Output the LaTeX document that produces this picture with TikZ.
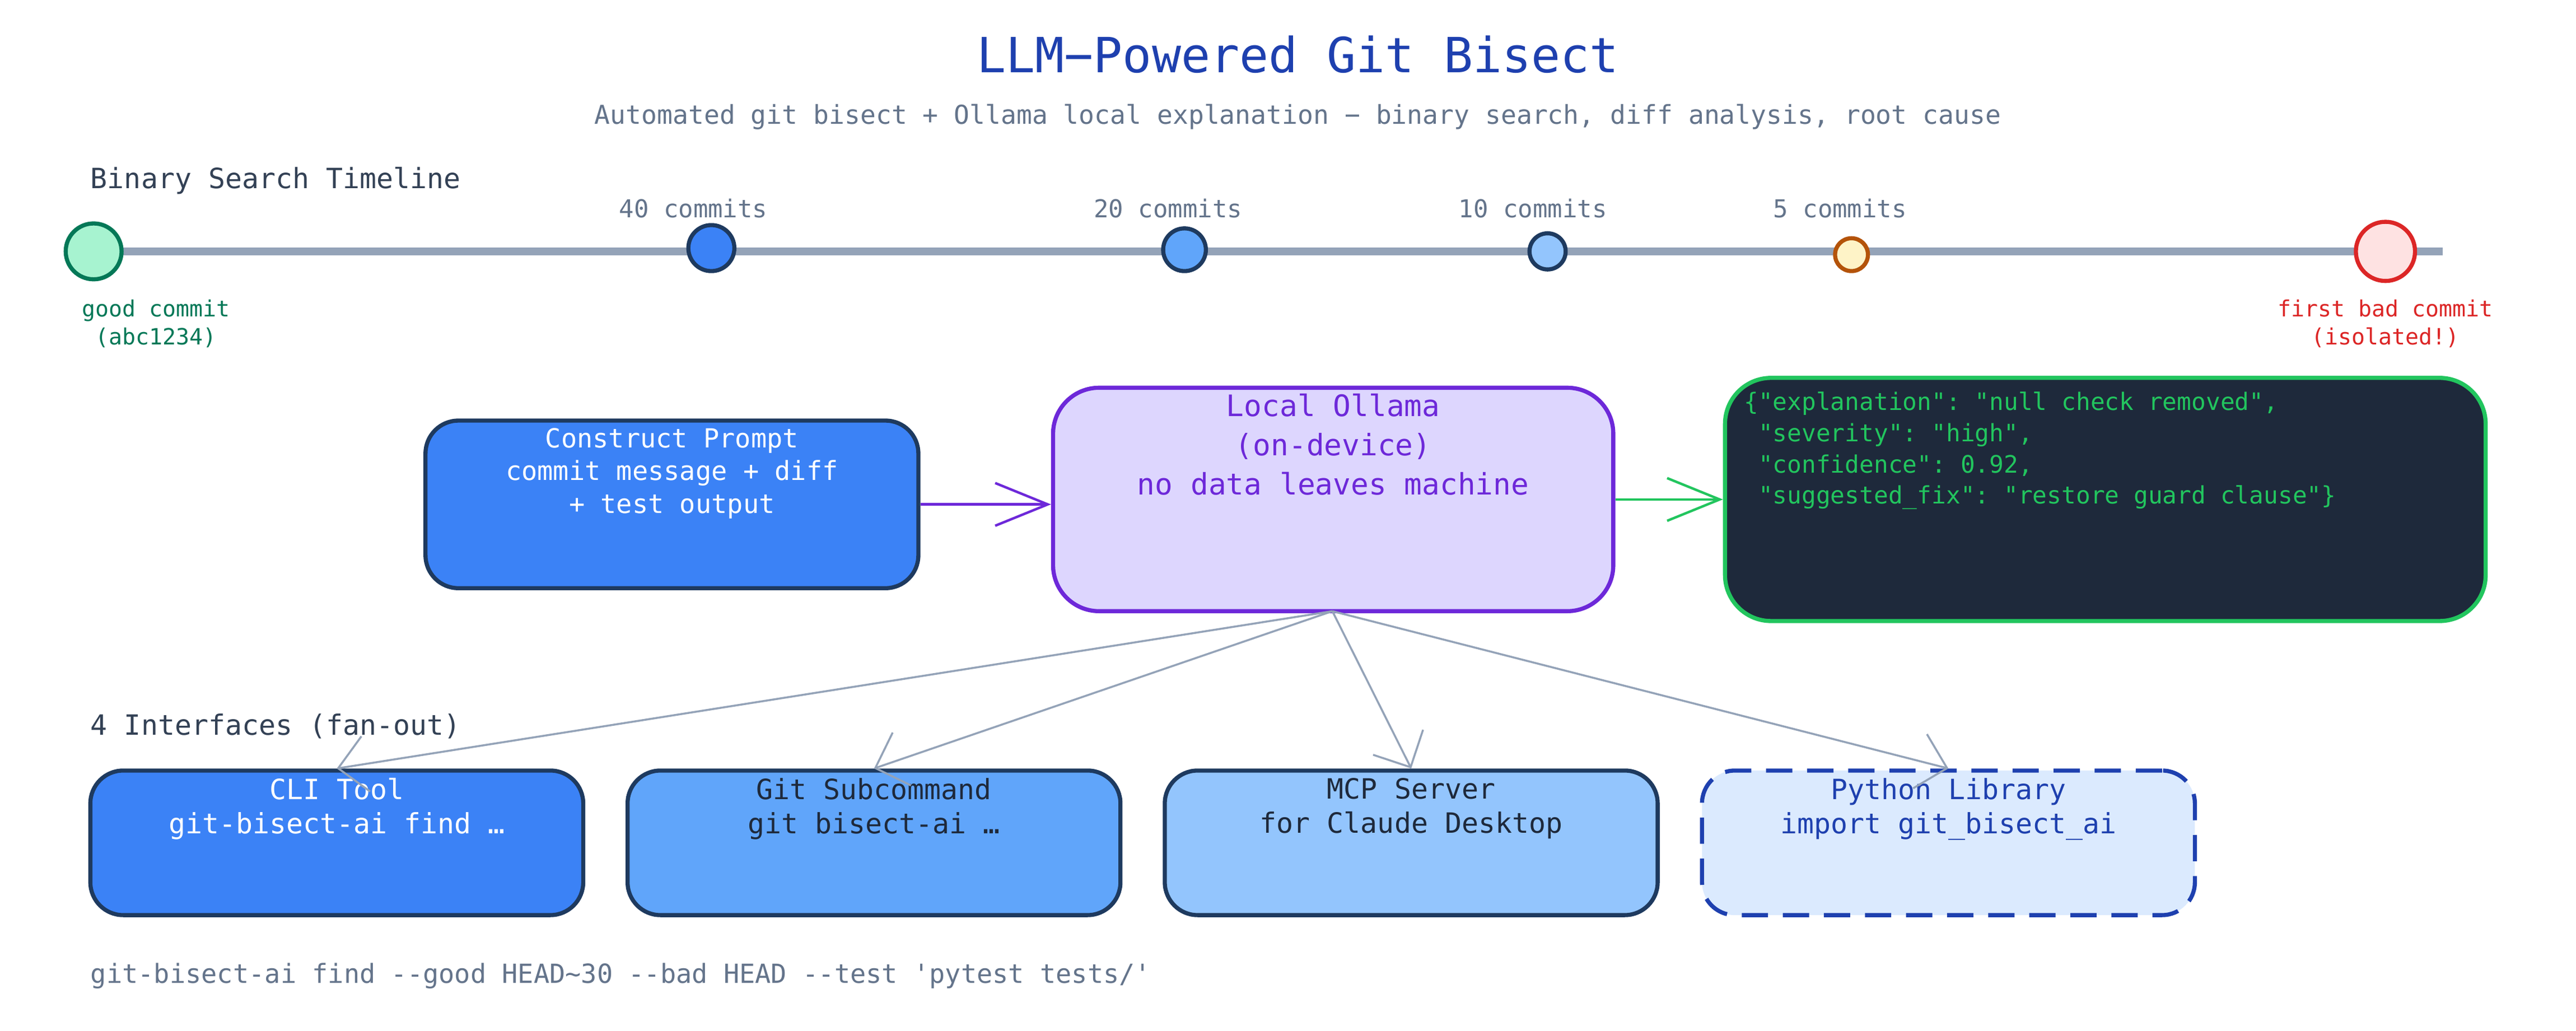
\documentclass[tikz,border=0pt]{standalone}
\usepackage{fontspec}
\setmonofont{DejaVu Sans Mono}
\usetikzlibrary{arrows.meta}
\definecolor{ttl}{HTML}{1E40AF}
\definecolor{slate}{HTML}{64748B}
\definecolor{dark}{HTML}{334155}
\definecolor{navy}{HTML}{1E3A5F}
\definecolor{line}{HTML}{94A3B8}
\definecolor{b1}{HTML}{3B82F6}
\definecolor{b2}{HTML}{60A5FA}
\definecolor{b3}{HTML}{93C5FD}
\definecolor{b4}{HTML}{DBEAFE}
\definecolor{gd}{HTML}{047857}
\definecolor{gf}{HTML}{A7F3D0}
\definecolor{rd}{HTML}{DC2626}
\definecolor{rf}{HTML}{FEE2E2}
\definecolor{pu}{HTML}{6D28D9}
\definecolor{pf}{HTML}{DDD6FE}
\definecolor{jb}{HTML}{1E293B}
\definecolor{jg}{HTML}{22C55E}
\definecolor{am}{HTML}{B45309}
\definecolor{af}{HTML}{FEF3C7}
\newcommand{\fs}[2]{\fontsize{#1}{#2}\selectfont\ttfamily}
\begin{document}
\begin{tikzpicture}[x=1pt,y=-1pt,
  dot/.style={circle,line width=2.5pt,inner sep=0pt},
  box/.style={draw=navy,line width=2.5pt,rounded corners=20pt,inner sep=0pt},
  tl/.style={text=slate,font=\fs{15}{18}},
  fan/.style={draw=line,line width=1.2pt,-{Straight Barb[length=17pt,width=34pt,line width=1.2pt]}}]
\useasboundingbox[fill=white] (0,0) rectangle (1568,627.2);
\node[text=ttl,font=\fs{29.5}{34}] (title) at (790,33) {LLM−Powered Git Bisect};
\node[text=slate,font=\fs{15.8}{20}] (sub) at (790,71) {Automated git bisect + Ollama local explanation − binary search, diff analysis, root cause};
\node[text=dark,font=\fs{17}{20},anchor=west,inner sep=0pt] (bst) at (55,110) {Binary Search Timeline};
\coordinate (ls) at (57,153); \coordinate (le) at (1487,153);
\draw[line,line width=5pt] (ls) -- (le);
\node[dot,draw=gd,fill=gf,minimum size=34pt] (good) at (57,153) {};
\node[dot,draw=navy,fill=b1,minimum size=28pt] (c40) at (433,151) {};
\node[dot,draw=navy,fill=b2,minimum size=26pt] (c20) at (721,152) {};
\node[dot,draw=navy,fill=b3,minimum size=22pt] (c10) at (942,153) {};
\node[dot,draw=am,fill=af,minimum size=20pt] (c5) at (1127,155) {};
\node[dot,draw=rd,fill=rf,minimum size=36pt] (bad) at (1452,153) {};
\node[tl] (t40) at (422,127) {40 commits};
\node[tl] (t20) at (711,127) {20 commits};
\node[tl] (t10) at (933,127) {10 commits};
\node[tl] (t5) at (1120,127) {5 commits};
\node[text=gd,font=\fs{13.6}{17},align=center,anchor=north] (gl) at (95,179) {good commit\\(abc1234)};
\node[text=rd,font=\fs{13.6}{17},align=center,anchor=north] (bl) at (1452,179) {first bad commit\\(isolated!)};
% middle row
\node[box,fill=b1,minimum width=300pt,minimum height=102pt] (cp) at (409,307) {};
\node[text=white,font=\fs{16}{20},align=center,anchor=north] (cpt) at (409,257) {Construct Prompt\\commit message + diff\\+ test output};
\node[box,draw=pu,fill=pf,minimum width=341pt,minimum height=136pt,rounded corners=28pt] (ol) at (811.5,304) {};
\node[text=pu,font=\fs{18}{24},align=center,anchor=north] (olt) at (811.5,236) {Local Ollama\\(on-device)\\no data leaves machine};
\node[box,draw=jg,fill=jb,minimum width=463pt,minimum height=148pt,rounded corners=28pt] (js) at (1281.5,304) {};
\node[text=jg,font=\fs{14.6}{19},align=left,anchor=north west] (jst) at (1058,235) {\{"explanation": "null check removed",\\\ "severity": "high",\\\ "confidence": 0.92,\\\ "suggested\_fix": "restore guard clause"\}};
\draw[pu,line width=1.5pt,-{Straight Barb[length=32pt,width=26pt,line width=1.5pt]}] (cp.east |- 0,307) -- (ol.west |- 0,307);
\draw[jg,line width=1.5pt,-{Straight Barb[length=32pt,width=26pt,line width=1.5pt]}] (ol.east |- 0,304) -- (js.west |- 0,304);
% interfaces
\node[text=dark,font=\fs{17}{20},anchor=west,inner sep=0pt] (ifl) at (55,442) {4 Interfaces (fan-out)};
\node[box,fill=b1,minimum width=300pt,minimum height=88pt] (cli) at (205,513) {};
\node[box,fill=b2,minimum width=300pt,minimum height=88pt] (gs) at (532,513) {};
\node[box,fill=b3,minimum width=300pt,minimum height=88pt] (mcp) at (859,513) {};
\node[box,draw=ttl,fill=b4,dashed,dash pattern=on 16pt off 9pt,minimum width=300pt,minimum height=88pt] (py) at (1186,513) {};
\node[text=white,font=\fs{17}{21},align=center,anchor=north] at (205,470) {CLI Tool\\git-bisect-ai find …};
\node[text=jb,font=\fs{17}{21},align=center,anchor=north] at (532,470) {Git Subcommand\\git bisect-ai …};
\node[text=jb,font=\fs{17}{21},align=center,anchor=north] at (859,470) {MCP Server\\for Claude Desktop};
\node[text=ttl,font=\fs{17}{21},align=center,anchor=north] at (1186,470) {Python Library\\import git\_bisect\_ai};
\coordinate (fo) at (811,372);
\draw[fan] (fo) -- (cli.north);
\draw[fan] (fo) -- (gs.north);
\draw[fan] (fo) -- (mcp.north);
\draw[fan] (fo) -- (py.north);
\node[text=slate,font=\fs{16}{20},anchor=west,inner sep=0pt] (cmd) at (55,594) {git-bisect-ai find --good HEAD\string~30 --bad HEAD --test 'pytest tests/'};
\end{tikzpicture}
\end{document}
